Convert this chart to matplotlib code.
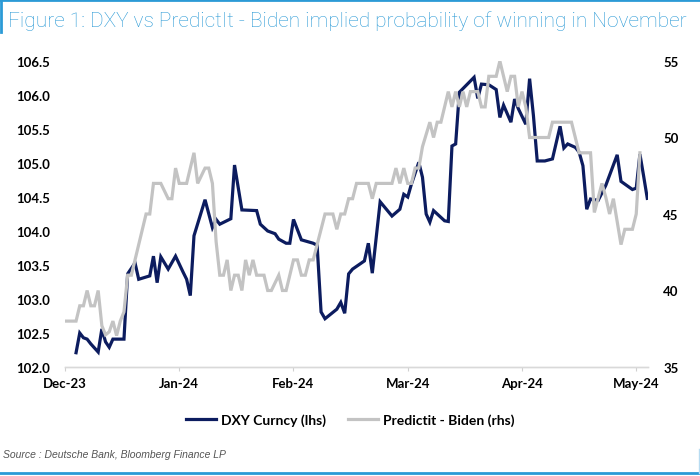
import numpy as np
import pandas as pd
import matplotlib.pyplot as plt
from matplotlib.lines import Line2D

# DXY Curncy (lhs)
dxy_dates = [
    "2023-12-04", "2023-12-05", "2023-12-06", "2023-12-07", "2023-12-08", "2023-12-10",
    "2023-12-11", "2023-12-12", "2023-12-13", "2023-12-14", "2023-12-17", "2023-12-18",
    "2023-12-20", "2023-12-21", "2023-12-24", "2023-12-25", "2023-12-26", "2023-12-27",
    "2023-12-29", "2023-12-31", "2024-01-02", "2024-01-03", "2024-01-04", "2024-01-05",
    "2024-01-08", "2024-01-10", "2024-01-11", "2024-01-12", "2024-01-15", "2024-01-16",
    "2024-01-18", "2024-01-22", "2024-01-23", "2024-01-25", "2024-01-27", "2024-01-28",
    "2024-01-30", "2024-01-31", "2024-02-01", "2024-02-03", "2024-02-06", "2024-02-07",
    "2024-02-08", "2024-02-09", "2024-02-12", "2024-02-13", "2024-02-14", "2024-02-15",
    "2024-02-16", "2024-02-19", "2024-02-20", "2024-02-21", "2024-02-23", "2024-02-26",
    "2024-02-28", "2024-02-29", "2024-03-01", "2024-03-02", "2024-03-04", "2024-03-05",
    "2024-03-06", "2024-03-07", "2024-03-08", "2024-03-11", "2024-03-12", "2024-03-13",
    "2024-03-14", "2024-03-15", "2024-03-19", "2024-03-20", "2024-03-21", "2024-03-23",
    "2024-03-25", "2024-03-26", "2024-03-27", "2024-03-29", "2024-03-30", "2024-03-31",
    "2024-04-02", "2024-04-03", "2024-04-04", "2024-04-05", "2024-04-07", "2024-04-09",
    "2024-04-11", "2024-04-12", "2024-04-13", "2024-04-15", "2024-04-16", "2024-04-17",
    "2024-04-18", "2024-04-19", "2024-04-21", "2024-04-23", "2024-04-26", "2024-04-27",
    "2024-04-30", "2024-05-01", "2024-05-02", "2024-05-03", "2024-05-04",
]
dxy_values = [
    102.21, 102.50, 102.43, 102.41, 102.34, 102.22,
    102.56, 102.37, 102.29, 102.41, 102.41, 103.37,
    103.53, 103.29, 103.34, 103.63, 103.24, 103.62,
    103.44, 103.63, 103.40, 103.29, 103.05, 103.93,
    104.46, 104.05, 104.17, 104.10, 104.18, 104.97,
    104.31, 104.30, 104.10, 104.00, 103.96, 103.88,
    103.82, 103.82, 104.17, 103.87, 103.82, 103.79,
    102.81, 102.71, 102.85, 102.95, 102.79, 103.37,
    103.44, 103.56, 103.82, 103.38, 104.43, 104.22,
    104.32, 104.54, 104.50, 104.69, 105.01, 104.79,
    104.25, 104.13, 104.30, 104.15, 104.14, 105.25,
    105.28, 106.04, 106.26, 105.95, 106.16, 106.15,
    106.08, 105.67, 105.85, 105.60, 105.94, 105.80,
    105.57, 106.24, 105.70, 105.03, 105.03, 105.06,
    105.54, 105.22, 105.28, 105.23, 105.16, 104.96,
    104.32, 104.47, 104.45, 104.67, 105.12, 104.73,
    104.61, 104.63, 105.13, 104.81, 104.48,
]

# Predictit - Biden (rhs)
pi_dates = [
    "2023-12-01", "2023-12-04", "2023-12-05", "2023-12-06", "2023-12-07", "2023-12-08",
    "2023-12-09", "2023-12-10", "2023-12-11", "2023-12-12", "2023-12-13", "2023-12-14",
    "2023-12-15", "2023-12-16", "2023-12-17", "2023-12-18", "2023-12-19", "2023-12-21",
    "2023-12-23", "2023-12-24", "2023-12-25", "2023-12-27", "2023-12-29", "2023-12-30",
    "2023-12-31", "2024-01-01", "2024-01-03", "2024-01-05", "2024-01-06", "2024-01-08",
    "2024-01-09", "2024-01-10", "2024-01-11", "2024-01-12", "2024-01-13", "2024-01-14",
    "2024-01-15", "2024-01-16", "2024-01-17", "2024-01-18", "2024-01-19", "2024-01-20",
    "2024-01-21", "2024-01-22", "2024-01-24", "2024-01-25", "2024-01-26", "2024-01-28",
    "2024-01-29", "2024-01-30", "2024-02-01", "2024-02-02", "2024-02-03", "2024-02-04",
    "2024-02-05", "2024-02-06", "2024-02-07", "2024-02-09", "2024-02-11", "2024-02-12",
    "2024-02-13", "2024-02-14", "2024-02-15", "2024-02-16", "2024-02-17", "2024-02-20",
    "2024-02-21", "2024-02-22", "2024-02-26", "2024-02-27", "2024-02-28", "2024-02-29",
    "2024-03-01", "2024-03-02", "2024-03-03", "2024-03-04", "2024-03-05", "2024-03-07",
    "2024-03-08", "2024-03-09", "2024-03-10", "2024-03-12", "2024-03-13", "2024-03-14",
    "2024-03-15", "2024-03-16", "2024-03-17", "2024-03-18", "2024-03-20", "2024-03-21",
    "2024-03-22", "2024-03-23", "2024-03-25", "2024-03-26", "2024-03-27", "2024-03-28",
    "2024-03-29", "2024-03-30", "2024-03-31", "2024-04-01", "2024-04-02", "2024-04-03",
    "2024-04-08", "2024-04-09", "2024-04-14", "2024-04-16", "2024-04-19", "2024-04-20",
    "2024-04-22", "2024-04-23", "2024-04-24", "2024-04-25", "2024-04-27", "2024-04-28",
    "2024-04-30", "2024-05-01", "2024-05-02",
]
pi_values = [
    38, 38, 39, 39, 40, 39,
    39, 40, 37.7, 37.1, 37.3, 38,
    37.05, 38, 38.6, 41, 41, 43,
    45, 45, 47, 47, 46, 46,
    48, 47, 47, 49, 47, 48,
    48, 47, 43.2, 41, 41, 42,
    40, 41, 41, 40, 42, 41,
    42, 41, 41, 40, 40, 41,
    40, 40, 42, 42, 41, 41,
    42, 42, 43, 45, 45, 44,
    45, 45, 46, 46, 47, 47,
    46, 47, 47, 48, 47, 48,
    47, 47, 48, 48, 49.4, 51,
    50, 51, 51, 53, 52, 53,
    52, 53, 52, 53, 53, 52,
    52, 54, 54, 55, 54, 53,
    54, 54, 52, 53, 52, 50,
    50, 51, 51, 49, 49, 45.1,
    47, 46.1, 45, 46, 43, 44,
    44, 45, 49,
]

month_labels = ["Dec-23", "Jan-24", "Feb-24", "Mar-24", "Apr-24", "May-24"]
dxy_ticks = [102.0, 102.5, 103.0, 103.5, 104.0, 104.5, 105.0, 105.5, 106.0, 106.5]
pi_ticks = [35, 40, 45, 50, 55]


def month_pos(dates):
    # every month gets the same width, as on the original category axis
    d = pd.to_datetime(pd.Series(dates))
    pos = (d.dt.year - 2023) * 12 + d.dt.month - 12 + (d.dt.day - 1) / d.dt.days_in_month
    return pos.to_numpy()


NAVY = "#0c1c5f"
GREY = "#c3c3c3"
BLUE = "#2b9ad6"
tick_font = dict(family=["Lato", "DejaVu Sans"], weight="bold", size=9.5)

fig = plt.figure(figsize=(7, 4.77), dpi=100)
ax = fig.add_axes([65 / 700, 1 - 368 / 477, 583 / 700, 306 / 477])
ax2 = ax.twinx()

ax.plot(month_pos(dxy_dates), dxy_values, color=NAVY, lw=2.3, solid_joinstyle="miter")
ax2.plot(month_pos(pi_dates), pi_values, color=GREY, lw=2.3, solid_joinstyle="miter")

ax.set_xlim(0, 5.103)
ax.set_ylim(102.0, 106.5)
ax2.set_ylim(35, 55)

ax.set_xticks(range(len(month_labels)))
ax.set_xticklabels(month_labels, fontdict=tick_font)
ax.set_yticks(dxy_ticks)
ax.set_yticklabels([f"{v:.1f}" for v in dxy_ticks], fontdict=tick_font)
ax2.set_yticks(pi_ticks)
ax2.set_yticklabels([str(v) for v in pi_ticks], fontdict=tick_font)

ax.tick_params(axis="x", length=3, color="#d0d0d0", pad=4)
ax.tick_params(axis="y", length=0, pad=11)
ax2.tick_params(axis="y", length=0, pad=11)

for a in (ax, ax2):
    for s in ("top", "left", "right"):
        a.spines[s].set_visible(False)
    a.spines["bottom"].set_color("#d9d9d9")
    a.spines["bottom"].set_linewidth(1)

handles = [Line2D([], [], color=NAVY, lw=2.3), Line2D([], [], color=GREY, lw=2.3)]
fig.legend(handles, ["DXY Curncy (lhs)", "Predictit - Biden (rhs)"],
           loc="center", bbox_to_anchor=(0.5, 1 - 421 / 477), ncol=2, frameon=False,
           prop=dict(family=["Lato", "DejaVu Sans"], weight="bold", size=10),
           handlelength=2.2, handletextpad=0.3, columnspacing=1.6)

fig.text(8 / 700, 1 - 21 / 477,
         "Figure 1: DXY vs PredictIt - Biden implied probability of winning in November",
         color=BLUE, fontsize=15, family=["Roboto", "DejaVu Sans"], weight="light",
         va="center", ha="left")
fig.text(3 / 700, 1 - 455 / 477, "Source : Deutsche Bank, Bloomberg Finance LP",
         color="#555555", fontsize=7.5, style="italic",
         family=["Liberation Sans", "DejaVu Sans"], va="center", ha="left")

# blue bracket frame of the exhibit
frame = dict(color=BLUE, lw=2, transform=fig.transFigure)
fig.add_artist(Line2D([0, 1], [1 - 1 / 477, 1 - 1 / 477], **frame))
fig.add_artist(Line2D([1 / 700, 1 / 700], [1, 1 - 33 / 477], **frame))
fig.add_artist(Line2D([0, 1], [1 - 474 / 477, 1 - 474 / 477], **frame))
fig.add_artist(Line2D([1 - 1 / 700, 1 - 1 / 700], [1 - 450 / 477, 1 - 474 / 477],
                      color="#b8dcf2", lw=1, transform=fig.transFigure))

fig.savefig("out.png", dpi=100)
